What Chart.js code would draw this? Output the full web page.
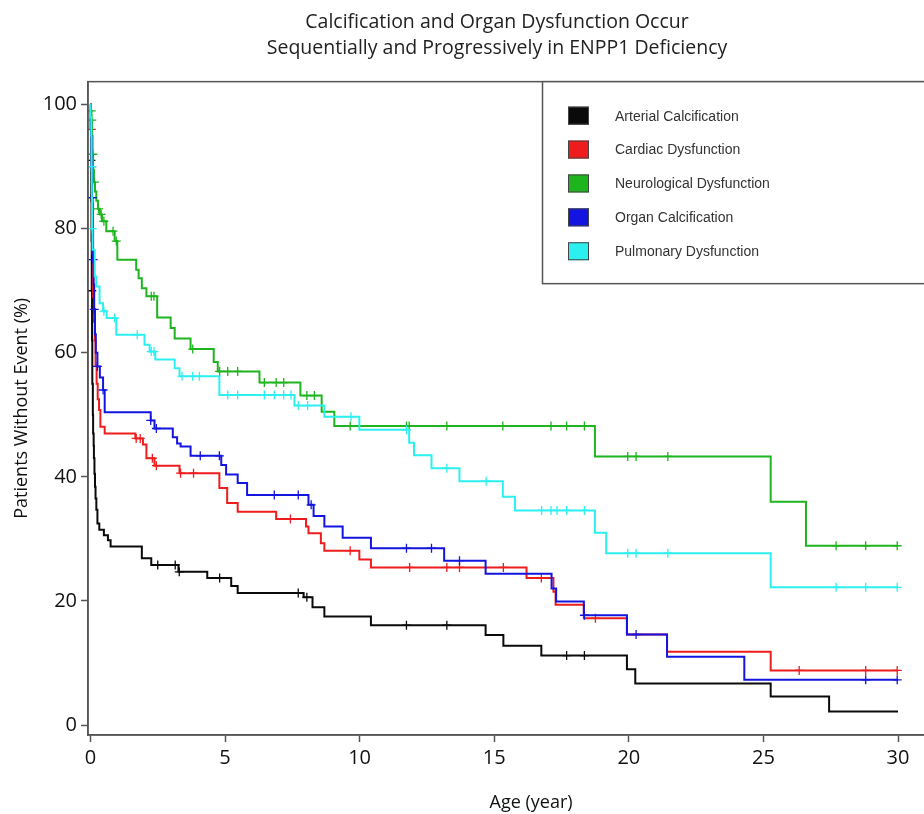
<!DOCTYPE html>
<html lang="en">
<head>
<meta charset="utf-8">
<title>Calcification and Organ Dysfunction - ENPP1 Deficiency</title>
<script src="https://cdn.jsdelivr.net/npm/chart.js@4.4.1/dist/chart.umd.min.js"></script>
<style>
  html, body { margin: 0; padding: 0; background: #fff; overflow: hidden; }
  #cadre { position: relative; width: 980px; height: 814px; }
</style>
</head>
<body>
<div id="cadre"><canvas id="graphique-km" width="980" height="814"></canvas></div>
<script>
// Graduations des axes
const TICKS_AGE = [0, 5, 10, 15, 20, 25, 30];
const TICKS_POURCENT = [0, 20, 40, 60, 80, 100];

const TITRE = ['Calcification and Organ Dysfunction Occur', 'Sequentially and Progressively in ENPP1 Deficiency'];

// Courbes de Kaplan-Meier : âge de l'événement (années) et % sans événement
const AGE_ARTERIELLE = [0, 0.01, 0.02, 0.03, 0.04, 0.05, 0.06, 0.07, 0.09, 0.1, 0.12, 0.13, 0.15, 0.17, 0.19, 0.22, 0.26, 0.33, 0.5, 0.65, 0.75, 1.91, 2.26, 3.27, 4.34, 5.23, 5.47, 7.92, 8.25, 8.69, 10.42, 14.68, 15.34, 16.75, 19.93, 20.24, 25.27, 27.44, 30];
const SURVIE_ARTERIELLE = [100, 96, 91, 85, 78, 70, 62, 55, 50, 47, 45, 43, 40.5, 38.4, 36.5, 34.7, 32.5, 31.5, 30.6, 29.8, 28.8, 26.9, 25.8, 24.7, 23.7, 22.4, 21.3, 20.6, 19.0, 17.5, 16.1, 14.5, 12.8, 11.2, 9.0, 6.7, 4.6, 2.2, 2.2];
const CENSURE_ARTERIELLE = [0.02, 0.03, 0.05, 2.5, 3.15, 3.3, 4.8, 7.72, 8.04, 11.74, 13.24, 17.69, 18.35];

const AGE_CARDIAQUE = [0, 0.02, 0.04, 0.06, 0.08, 0.1, 0.13, 0.16, 0.19, 0.23, 0.27, 0.32, 0.37, 0.53, 1.67, 1.95, 2.08, 2.38, 3.31, 4.79, 5.08, 5.47, 6.9, 8.01, 8.1, 8.56, 8.69, 9.99, 10.42, 16.2, 17.2, 17.28, 18.33, 19.93, 21.42, 25.27, 30];
const SURVIE_CARDIAQUE = [100, 96, 90, 84, 76, 69, 65, 62, 58, 55, 52.5, 50.8, 48.1, 47.0, 46.2, 45.2, 43.0, 41.8, 40.6, 38.2, 35.8, 34.4, 33.2, 32.0, 30.9, 29.3, 28.1, 26.7, 25.4, 23.7, 21.5, 19.4, 17.2, 14.6, 11.8, 8.8, 8.8];
const CENSURE_CARDIAQUE = [0.03, 1.7, 1.85, 2.3, 2.45, 3.35, 3.83, 7.43, 9.65, 11.86, 13.24, 13.71, 15.34, 16.75, 18.76, 26.33, 28.8, 29.97];

const AGE_NEURO = [0, 0.02, 0.04, 0.06, 0.08, 0.1, 0.13, 0.17, 0.22, 0.28, 0.35, 0.43, 0.59, 0.9, 1.0, 1.7, 1.79, 1.91, 2.08, 2.48, 2.98, 3.13, 3.72, 4.58, 4.73, 6.28, 7.8, 8.59, 9.06, 18.74, 25.27, 26.58, 30];
const SURVIE_NEURO = [100, 99, 97.5, 95, 92, 89.5, 87.5, 86, 84.5, 83.2, 82.3, 81.2, 79.6, 78.0, 75.0, 73.4, 72.0, 70.4, 69.1, 65.7, 64.0, 62.3, 60.6, 58.5, 57.0, 55.2, 53.1, 50.5, 48.2, 43.3, 36.0, 28.9, 28.9];
const CENSURE_NEURO = [0.03, 0.05, 0.09, 0.15, 0.3, 0.4, 0.5, 0.84, 0.96, 2.26, 2.36, 3.8, 4.8, 5.1, 5.47, 6.46, 6.9, 7.18, 8.04, 8.32, 9.65, 11.74, 11.84, 13.24, 15.32, 17.11, 17.69, 18.35, 19.96, 20.27, 21.45, 27.7, 28.8, 29.97];

const AGE_ORGANE = [0, 0.02, 0.04, 0.06, 0.08, 0.1, 0.12, 0.14, 0.17, 0.2, 0.26, 0.35, 0.47, 0.53, 2.24, 2.38, 3.06, 3.22, 3.35, 3.72, 4.86, 5.04, 5.47, 5.82, 8.1, 8.29, 8.69, 9.37, 10.42, 13.14, 14.68, 17.13, 17.3, 18.33, 19.93, 21.42, 24.29, 30];
const SURVIE_ORGANE = [100, 95, 90, 85, 80, 75, 71, 67, 63, 60, 57.8, 56, 54, 50.4, 49.1, 47.8, 46.4, 45.4, 44.9, 43.4, 41.9, 40.4, 39.0, 37.1, 35.5, 33.7, 32.0, 30.2, 28.5, 26.5, 24.4, 22.0, 19.9, 17.7, 14.6, 11.0, 7.3, 7.3];
const CENSURE_ORGANE = [0.05, 0.07, 0.1, 0.14, 0.26, 0.47, 2.24, 2.45, 4.08, 4.79, 6.83, 7.72, 8.2, 11.74, 12.67, 13.71, 18.35, 20.27, 28.8, 29.97];

const AGE_PULMONAIRE = [0, 0.01, 0.03, 0.04, 0.05, 0.06, 0.08, 0.16, 0.22, 0.34, 0.47, 0.6, 0.96, 2.01, 2.2, 2.41, 3.13, 3.31, 4.79, 7.58, 8.69, 9.99, 11.84, 12.02, 12.67, 13.71, 15.32, 15.77, 18.74, 19.16, 25.27, 30];
const SURVIE_PULMONAIRE = [100, 98, 95, 90, 85, 80, 76.6, 72.3, 70.7, 68, 66.7, 65.6, 62.9, 61.3, 60.2, 58.9, 57.5, 56.2, 53.2, 51.5, 49.7, 47.6, 45.5, 43.5, 41.4, 39.3, 36.8, 34.6, 31.0, 27.7, 22.2, 22.2];
const CENSURE_PULMONAIRE = [0.04, 0.07, 0.5, 0.9, 1.74, 2.26, 2.36, 3.4, 3.8, 4.05, 5.1, 5.47, 6.46, 6.83, 7.18, 7.45, 7.72, 8.07, 9.68, 11.74, 13.24, 14.7, 16.76, 17.11, 17.33, 17.69, 18.35, 19.96, 20.27, 21.45, 27.7, 28.8, 29.97];

const SERIES = [
  { nom: 'Arterial Calcification', couleur: '#0a0a0a', ages: AGE_ARTERIELLE, survie: SURVIE_ARTERIELLE, censures: CENSURE_ARTERIELLE },
  { nom: 'Cardiac Dysfunction', couleur: '#ee1c1c', ages: AGE_CARDIAQUE, survie: SURVIE_CARDIAQUE, censures: CENSURE_CARDIAQUE },
  { nom: 'Neurological Dysfunction', couleur: '#1db41d', ages: AGE_NEURO, survie: SURVIE_NEURO, censures: CENSURE_NEURO },
  { nom: 'Organ Calcification', couleur: '#1414e0', ages: AGE_ORGANE, survie: SURVIE_ORGANE, censures: CENSURE_ORGANE },
  { nom: 'Pulmonary Dysfunction', couleur: '#2cf0f0', ages: AGE_PULMONAIRE, survie: SURVIE_PULMONAIRE, censures: CENSURE_PULMONAIRE },
];

const COULEUR_AXE = '#555';

// valeur de la courbe en escalier à l'âge t (dernier événement <= t)
function valeurA(ages, survie, t) {
  let v = survie[0];
  ages.forEach((a, i) => { if (a <= t) v = survie[i]; });
  return v;
}

function construireJeux() {
  const jeux = [];
  SERIES.forEach((s, i) => {
    const ordre = SERIES.length - i;
    jeux.push({
      type: 'line',
      label: s.nom,
      data: s.ages.map((a, k) => ({ x: a, y: s.survie[k] })),
      // palier horizontal puis chute verticale à l'âge de l'événement
      stepped: 'before',
      borderColor: s.couleur,
      borderWidth: 2,
      pointRadius: 0,
      pointHitRadius: 0,
      fill: false,
      order: ordre,
    });
    jeux.push({
      type: 'scatter',
      label: s.nom + ' (censored)',
      data: s.censures.map((t) => ({ x: t, y: valeurA(s.ages, s.survie, t) })),
      showLine: false,
      pointStyle: 'cross',
      pointRadius: 4.5,
      borderColor: s.couleur,
      borderWidth: 1.3,
      order: ordre,
    });
  });
  return jeux;
}

// cadre haut/droite autour de la zone de tracé
const pluginCadre = {
  id: 'cadre',
  afterDatasetsDraw(chart) {
    const { ctx, chartArea } = chart;
    ctx.save();
    ctx.strokeStyle = COULEUR_AXE;
    ctx.lineWidth = 1.5;
    ctx.strokeRect(chartArea.left, chartArea.top, chartArea.right - chartArea.left, chartArea.bottom - chartArea.top);
    ctx.restore();
  },
};

// légende encadrée en haut à droite
const pluginLegende = {
  id: 'legendeEncadree',
  afterDraw(chart) {
    const { ctx, chartArea } = chart;
    const x0 = 542.5;
    const y0 = chartArea.top;
    const largeur = chart.width - x0 + 10;
    const hauteur = 202;
    ctx.save();
    ctx.fillStyle = '#fff';
    ctx.fillRect(x0, y0, largeur, hauteur);
    ctx.strokeStyle = COULEUR_AXE;
    ctx.lineWidth = 1.5;
    ctx.strokeRect(x0, y0, largeur, hauteur);
    ctx.font = "14px 'Liberation Sans', Arial, sans-serif";
    ctx.textBaseline = 'middle';
    SERIES.forEach((s, i) => {
      const y = y0 + 34 + i * 33.9;
      ctx.fillStyle = s.couleur;
      ctx.fillRect(568, y - 9, 21, 18);
      ctx.strokeStyle = '#444';
      ctx.lineWidth = 1;
      ctx.strokeRect(568.5, y - 8.5, 20, 17);
      ctx.fillStyle = '#333';
      ctx.fillText(s.nom, 615, y + 1);
    });
    ctx.restore();
  },
};

Chart.defaults.font.family = "'Open Sans', sans-serif";
Chart.defaults.color = '#222';

const ctx = document.getElementById('graphique-km').getContext('2d');
new Chart(ctx, {
  type: 'scatter',
  data: { datasets: construireJeux() },
  options: {
    responsive: false,
    animation: false,
    layout: { padding: { left: 18, right: 4, top: 0, bottom: 0 } },
    plugins: {
      legend: { display: false },
      tooltip: { enabled: false },
      title: {
        display: true,
        text: TITRE,
        color: '#222',
        font: { size: 19.5, weight: 'normal', lineHeight: 1.35 },
        padding: { top: 9, bottom: 20 },
      },
    },
    scales: {
      x: {
        type: 'linear',
        min: -0.09,
        max: 32.83,
        afterFit: (scale) => { scale.height = 79; },
        afterBuildTicks: (scale) => { scale.ticks = TICKS_AGE.map((v) => ({ value: v })); },
        grid: { drawOnChartArea: false, drawTicks: true, tickLength: 7, tickColor: COULEUR_AXE, tickWidth: 1.5 },
        border: { display: true, color: COULEUR_AXE, width: 1.5 },
        ticks: { autoSkip: false, maxRotation: 0, padding: 4, color: '#111', font: { size: 20 } },
        title: { display: true, text: 'Age (year)', color: '#111', font: { size: 18 }, padding: { top: 0, bottom: 0 } },
      },
      y: {
        type: 'linear',
        min: -1.6,
        max: 103.7,
        afterFit: (scale) => { scale.width = 70; },
        afterBuildTicks: (scale) => { scale.ticks = TICKS_POURCENT.map((v) => ({ value: v })); },
        grid: { drawOnChartArea: false, drawTicks: true, tickLength: 7, tickColor: COULEUR_AXE, tickWidth: 1.5 },
        border: { display: true, color: COULEUR_AXE, width: 1.5 },
        ticks: { autoSkip: false, padding: 4, color: '#111', font: { size: 20 } },
        title: { display: true, text: 'Patients Without Event (%)', color: '#111', font: { size: 18 }, padding: { top: -7, bottom: 0 } },
      },
    },
  },
  plugins: [pluginCadre, pluginLegende],
});
</script>
</body>
</html>
